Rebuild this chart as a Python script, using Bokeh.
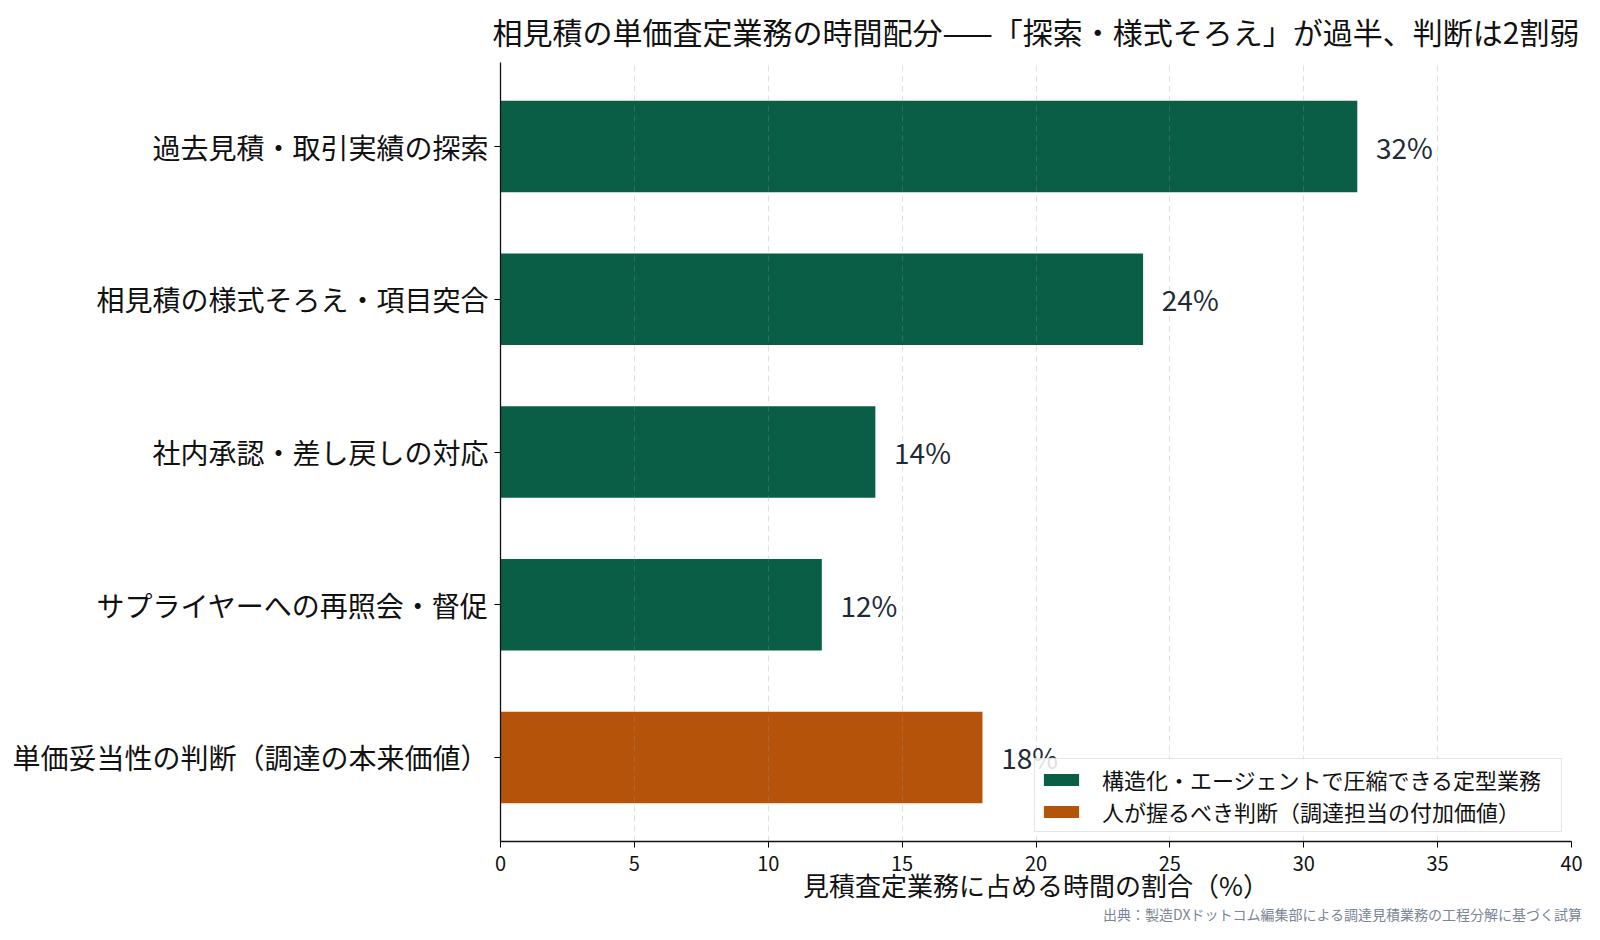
from bokeh.plotting import figure
from bokeh.models import ColumnDataSource, Range1d, FixedTicker, Legend, LegendItem, LabelSet, Title
from bokeh.core.properties import value
from bokeh.embed import file_html
from bokeh.resources import INLINE

categories = [
    "過去見積・取引実績の探索",
    "相見積の様式そろえ・項目突合",
    "社内承認・差し戻しの対応",
    "サプライヤーへの再照会・督促",
    "単価妥当性の判断（調達の本来価値）",
]
values = [32, 24, 14, 12, 18]
groups = ["routine", "routine", "routine", "routine", "judgement"]
legend_labels = {
    "routine": "構造化・エージェントで圧縮できる定型業務",
    "judgement": "人が握るべき判断（調達担当の付加価値）",
}
colors = {"routine": "#0a5e46", "judgement": "#b5530b"}
x_ticks = [0, 5, 10, 15, 20, 25, 30, 35, 40]
x_min, x_max = 0, 40
title_text = "相見積の単価査定業務の時間配分——「探索・様式そろえ」が過半、判断は2割弱"
x_label = "見積査定業務に占める時間の割合（%）"
source_text = "出典：製造DXドットコム編集部による調達見積業務の工程分解に基づく試算"

FONT = "Noto Sans CJK JP"
n = len(categories)
ypos = [n - 1 - i for i in range(n)]
y_lo, y_hi = -0.55, n - 1 + 0.55

p = figure(width=1584, height=924, output_backend="svg", toolbar_location=None,
           x_range=Range1d(x_min, x_max), y_range=Range1d(y_lo, y_hi),
           min_border_left=500, min_border_right=13, min_border_top=62, min_border_bottom=0)
p.outline_line_color = None

p.title.text = title_text
p.title.align = "center"
p.title.vertical_align = "top"
p.title.text_font = FONT
p.title.text_font_size = "30px"
p.title.text_font_style = "normal"
p.title.text_color = "#111111"
p.title.standoff = 15

renderers = {}
for g in ["routine", "judgement"]:
    idx = [i for i in range(n) if groups[i] == g]
    src = ColumnDataSource(dict(y=[ypos[i] for i in idx], right=[values[i] for i in idx]))
    r = p.hbar(y="y", left=0, right="right", height=0.6, source=src,
               fill_color=colors[g], line_color=None)
    renderers[g] = r

lab_src = ColumnDataSource(dict(x=[v + 0.7 for v in values], y=ypos,
                                t=[f"{v}%" for v in values]))
labels = LabelSet(x="x", y="y", text="t", source=lab_src, text_font=value(FONT),
                  text_font_size="28px", text_color="#1f2a37", text_baseline="middle")
p.add_layout(labels)

legend = Legend(items=[LegendItem(label=legend_labels[g], renderers=[renderers[g]]) for g in ["routine", "judgement"]],
                location="bottom_right", label_text_font=FONT, label_text_font_size="22px",
                label_text_color="#111111", glyph_width=44, glyph_height=15, label_standoff=19,
                label_width=455, spacing=0, padding=4, margin=9, border_line_color="#cccccc",
                border_line_width=1, background_fill_alpha=0.85)
p.add_layout(legend)

p.xaxis.ticker = FixedTicker(ticks=x_ticks)
p.xaxis.axis_label = x_label
p.xaxis.axis_label_text_font = FONT
p.xaxis.axis_label_text_font_size = "26px"
p.xaxis.axis_label_text_font_style = "normal"
p.xaxis.axis_label_text_color = "#111111"
p.xaxis.axis_label_standoff = -8
p.xaxis.major_label_text_font = FONT
p.xaxis.major_label_text_font_size = "20px"
p.xaxis.major_label_text_color = "#111111"
p.xaxis.major_label_standoff = 8
p.xaxis.minor_tick_line_color = None
p.xaxis.major_tick_out = 6
p.xaxis.major_tick_in = 0
p.xaxis.axis_line_width = 1.3
p.xaxis.axis_line_color = "#111111"

p.yaxis.ticker = FixedTicker(ticks=ypos)
p.yaxis.major_label_overrides = {ypos[i]: categories[i] for i in range(n)}
p.yaxis.major_label_text_font = FONT
p.yaxis.major_label_text_font_size = "28px"
p.yaxis.major_label_text_color = "#111111"
p.yaxis.major_label_standoff = 6
p.yaxis.minor_tick_line_color = None
p.yaxis.major_tick_out = 6
p.yaxis.major_tick_in = 0
p.yaxis.axis_line_width = 1.3
p.yaxis.axis_line_color = "#111111"

p.ygrid.grid_line_color = None
p.xgrid.grid_line_color = "#999999"
p.xgrid.grid_line_alpha = 0.3
p.xgrid.grid_line_dash = "6 4"
p.xgrid.grid_line_width = 1
p.xgrid.level = "guide"

p.add_layout(Title(text=source_text, align="right", vertical_align="top", text_font=FONT,
                   text_font_size="14px", text_font_style="normal", text_color="#7a8694",
                   offset=-11, standoff=-3), "below")

open("out.html", "w").write(file_html(p, INLINE))
